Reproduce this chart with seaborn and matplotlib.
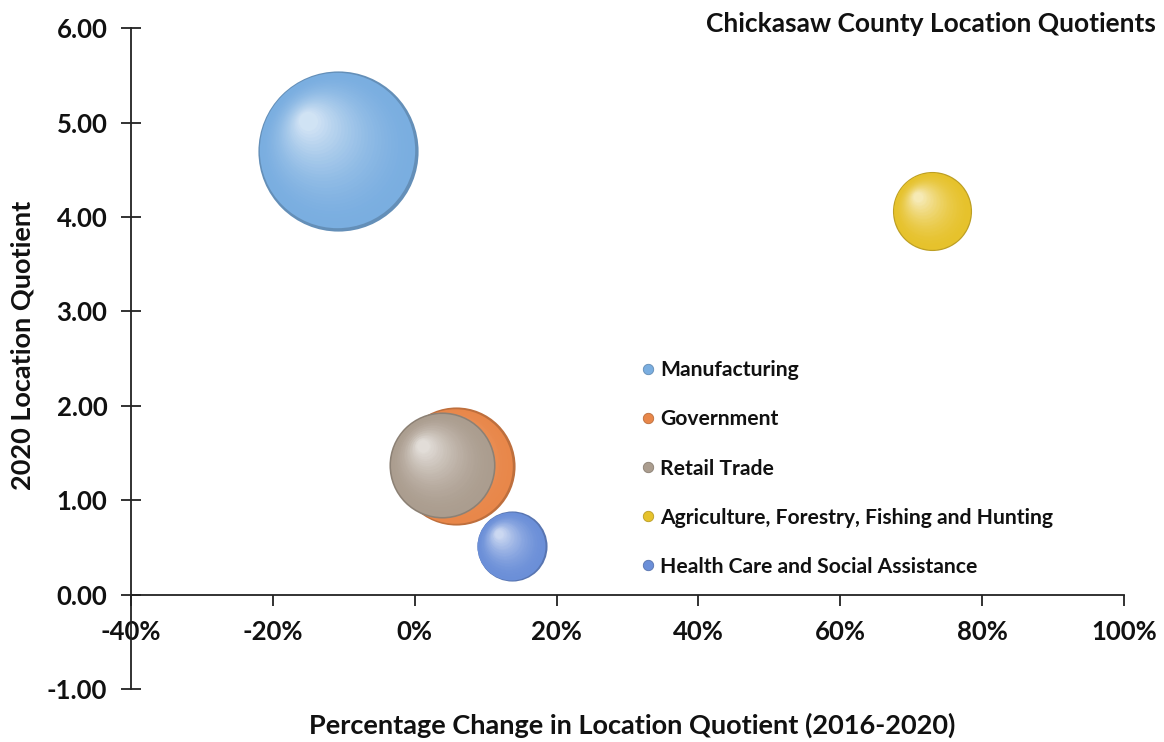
import numpy as np
import pandas as pd
import seaborn as sns
import matplotlib.pyplot as plt
from matplotlib import transforms
from matplotlib.colors import to_rgb
from matplotlib.lines import Line2D
from matplotlib.ticker import FuncFormatter

# data
industries = ['Manufacturing', 'Government', 'Retail Trade',
              'Agriculture, Forestry, Fishing and Hunting',
              'Health Care and Social Assistance']
pct_change = [-10.8, 5.8, 3.9, 73.0, 13.7]
lq_2020 = [4.70, 1.36, 1.37, 4.06, 0.51]
employment = [2600, 1414, 1141, 634, 498]
colors = ['#7aaee0', '#e8874a', '#ab9d8f', '#e6c22c', '#6b8fd8']

df = pd.DataFrame({'industry': industries, 'pct': pct_change,
                   'lq': lq_2020, 'emp': employment})
palette = dict(zip(industries, colors))

sns.set_theme(style='white')
plt.rcParams['font.family'] = ['Lato', 'DejaVu Sans']
plt.rcParams['font.weight'] = 'bold'

fig = plt.figure(figsize=(11.64, 7.42), dpi=100)
ax = fig.add_axes([0.1125, 0.0714, 0.9656 - 0.1125, 0.9619 - 0.0714])

s_max = 13300
size_norm = (0, max(employment))


def mix(c, other, t):
    c = np.array(to_rgb(c))
    return tuple(c * (1 - t) + np.array(other) * t)


# each bubble drawn as a stack of lighter discs shifted up-left (sphere look)
for i, row in df.iterrows():
    base_z = 10 + i * 100
    sns.scatterplot(data=df.iloc[[i]], x='pct', y='lq', hue='industry', size='emp',
                    palette={row['industry']: mix(palette[row['industry']], (0, 0, 0), 0.18)},
                    sizes=(0, s_max), size_norm=size_norm, legend=False,
                    linewidth=0, ax=ax, zorder=base_z)
    s = row['emp'] / size_norm[1] * s_max
    r_pt = np.sqrt(s) / 2
    n = 30
    for k in range(n):
        f = 0.97 - 0.85 * k / (n - 1)
        t = 0.65 * (k / (n - 1)) ** 1.8
        shift = (1 - f) * r_pt * 0.42
        tr = transforms.offset_copy(ax.transData, fig=fig, x=-shift, y=shift, units='points')
        ax.scatter([row['pct']], [row['lq']], s=s * f ** 2,
                   color=mix(palette[row['industry']], (1, 1, 1), t),
                   linewidths=0, transform=tr, zorder=base_z + 1 + k)

ax.set_xlim(-40, 100)
ax.set_ylim(-1, 6)
ax.set_xticks(range(-40, 101, 20))
ax.set_yticks(range(-1, 7))
ax.xaxis.set_major_formatter(FuncFormatter(lambda v, p: f'{v:.0f}%'))
ax.yaxis.set_major_formatter(FuncFormatter(lambda v, p: f'{v:.2f}'))

for side in ['top', 'right']:
    ax.spines[side].set_visible(False)
ax.spines['bottom'].set_position(('data', 0))
for side in ['left', 'bottom']:
    ax.spines[side].set_color('#222222')
    ax.spines[side].set_linewidth(1.3)
ax.tick_params(axis='both', width=1.3, color='#222222',
               labelsize=18.5, labelcolor='#111111', bottom=True, left=True)
ax.tick_params(axis='x', direction='out', length=8, pad=10)
ax.tick_params(axis='y', direction='inout', length=14, pad=10)
for lab in ax.get_xticklabels() + ax.get_yticklabels():
    lab.set_fontweight('bold')

ax.set_xlabel('')
ax.set_ylabel('')
fig.text(0.543, 0.023, 'Percentage Change in Location Quotient (2016-2020)',
         ha='center', va='center', fontsize=19.5, fontweight='bold', color='#111111')
fig.text(0.019, 0.534, '2020 Location Quotient', rotation=90, ha='center', va='center',
         fontsize=19.5, fontweight='bold', color='#111111')
fig.text(0.993, 0.967, 'Chickasaw County Location Quotients', ha='right', va='center',
         fontsize=19, fontweight='bold', color='#111111')

handles = [Line2D([0], [0], marker='o', linestyle='', markersize=7.5,
                  markerfacecolor=palette[name], markeredgecolor=mix(palette[name], (0, 0, 0), 0.2),
                  markeredgewidth=0.6) for name in industries]
leg = ax.legend(handles, industries, loc='upper left', bbox_to_anchor=(0.532, 0.540),
                bbox_transform=fig.transFigure, frameon=False,
                labelspacing=1.38, handletextpad=0.15, handlelength=0.9,
                prop={'weight': 'bold', 'size': 15.2})
for txt in leg.get_texts():
    txt.set_color('#111111')
leg.set_zorder(1000)

fig.savefig('out.png', dpi=100)
